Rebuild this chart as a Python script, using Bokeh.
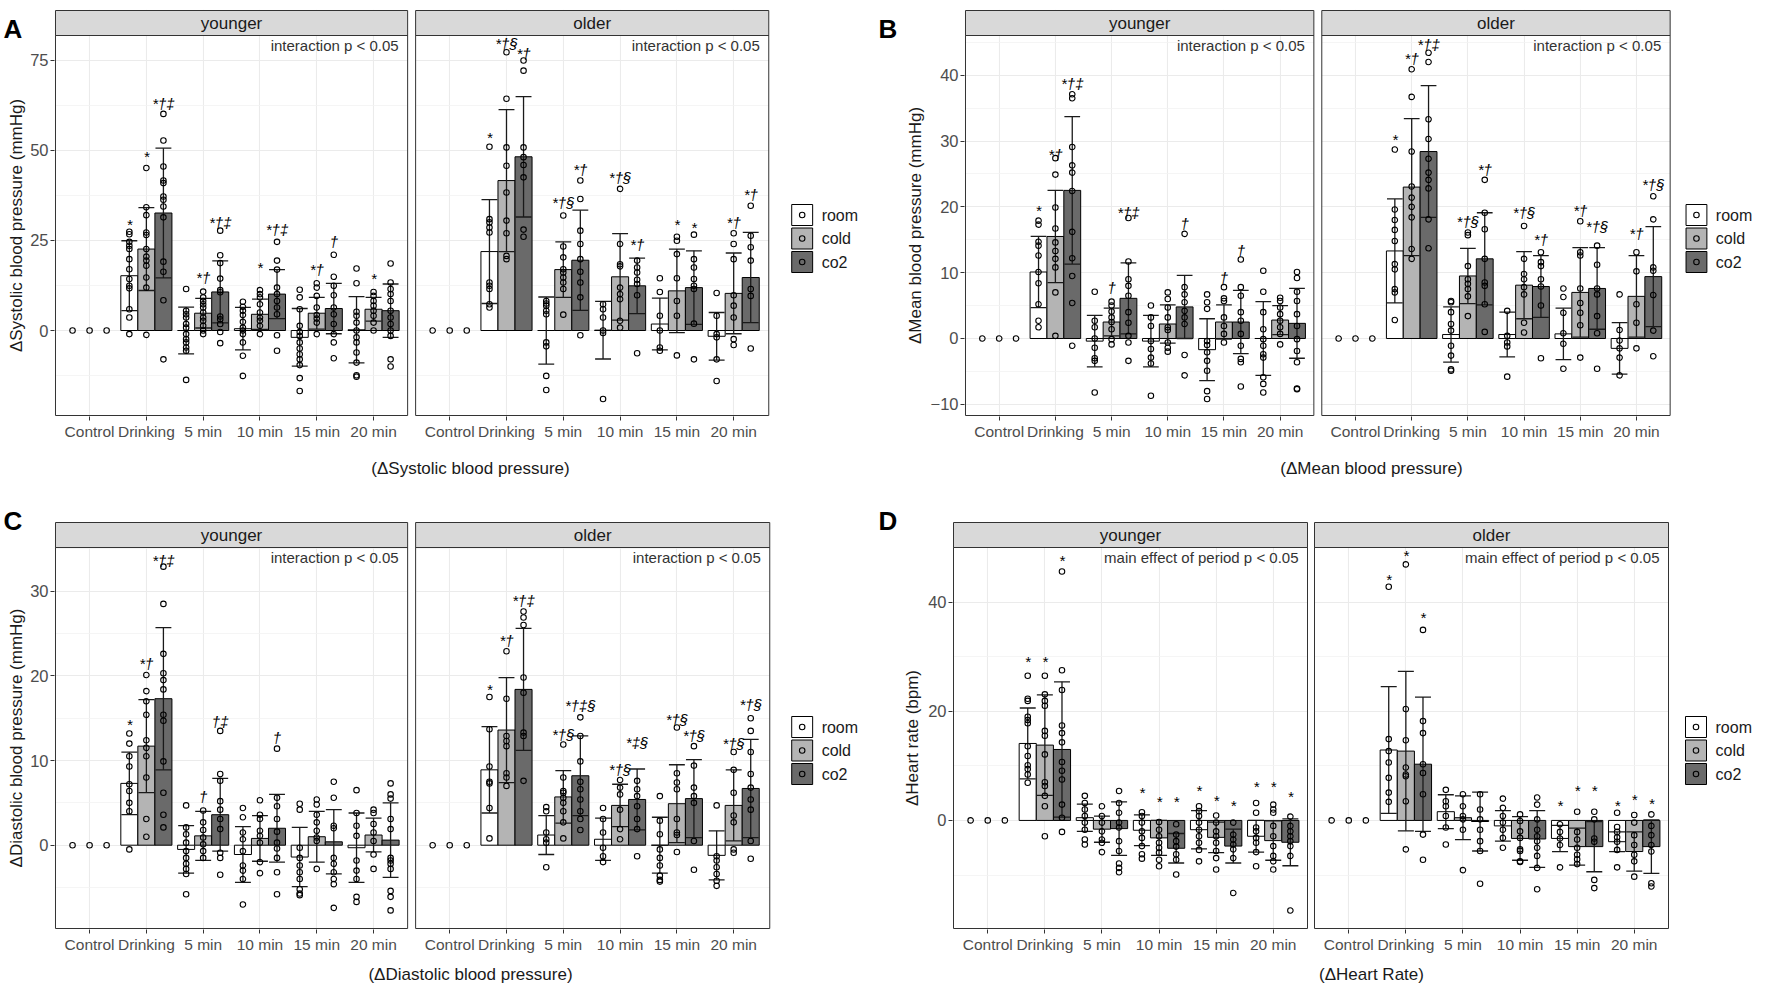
from bokeh.plotting import figure
from bokeh.models import Range1d, FixedTicker, AllLabels
from bokeh.layouts import row, column
from bokeh.embed import file_html
from bokeh.resources import INLINE
from bokeh.core.properties import value

PERIODS = ["Control", "Drinking", "5 min", "10 min", "15 min", "20 min"]
CONDS = ["room", "cold", "co2"]
AGES = ["younger", "older"]
FILL = {"room": "#FFFFFF", "cold": "#B4B4B4", "co2": "#6A6A6A"}
FONT = "Liberation Sans"

# ---------------- Systolic ----------------
SBP_Y_MEAN = {"room": [0, 15.2, 0.0, 0.5, -1.9, 0.2], "cold": [0, 22.6, 4.8, 4.5, 4.8, 5.9], "co2": [0, 32.6, 10.7, 10.1, 6.1, 5.5]}
SBP_Y_SD = {"room": [0, 9.7, 6.5, 5.9, 8.0, 9.2], "cold": [0, 11.5, 4.1, 4.2, 4.4, 3.3], "co2": [0, 18.0, 8.6, 6.8, 7.0, 7.4]}
SBP_Y_PTS = {
    "room": [[0], [27.4, 26.7, 24.6, 23.5, 22.6, 19.8, 17, 14.3, 12.4, 11.7, 5.9, 3.6, -1], [11.5, 5.5, 4.5, 3.6, 1.8, 0.8, -1, -2.4, -3.3, -4.7, -5.6, -13.7],
             [8, 6.6, 5.5, 4.3, 2.4, 0.8, 0, -1, -3.3, -7, -12.6], [11.3, 9.2, 5.9, 1.3, -0.4, -1.5, -3.3, -5, -6.6, -8, -9.6, -13.2, -16.8],
             [17.2, 13.1, 5.2, 4.1, 2.2, 0, -1.9, -3.3, -6.1, -8.9, -12.4, -12.8]],
    "cold": [[0], [45.1, 34.2, 32, 27.2, 26.5, 22.6, 20.5, 19.4, 18, 14.7, 11.9, -1.2], [10.8, 9.2, 8.2, 7.3, 6.4, 5, 3.6, 2.7, 1.3, 0, -1],
             [11.2, 10.1, 9.2, 7.3, 5, 3.6, 2.7, 1.3, -1], [13.1, 11.9, 9.6, 6.4, 4.3, 3.3, 2.2, -1], [10.7, 9.6, 8.2, 6.9, 5.5, 4.1, 2.2, 0]],
    "co2": [[0], [60.1, 52.7, 45.5, 41.6, 40.9, 37.2, 36.3, 34.4, 31.4, 19.1, 16.3, 8.4, -8], [27.7, 20.9, 18.7, 14.4, 11.2, 10.6, 3.9, 3.1, 1.8, -0.4, -3.5],
            [24.6, 19.4, 16.9, 11.9, 10.1, 8.2, 6.4, 4.5, -1.3, -5.6], [21, 14.9, 12.4, 9.8, 6.4, 4.5, 1.8, -1, -3.3, -7.7],
            [18.6, 13.3, 11.5, 10.1, 8.2, 5.5, 3.6, 1.8, 0, -1.5, -8, -10]]}
SBP_Y_SIG = {"room": ["", "*", "", "", "", ""], "cold": ["", "*", "*†", "*", "*†", "*"], "co2": ["", "*†‡", "*†‡", "*†‡", "†", ""]}
SBP_Y_SIGY = {"room": [0, 29.5, 0, 0, 0, 0], "cold": [0, 48.2, 14.7, 17.5, 16.9, 14.3], "co2": [0, 63, 30, 28, 24.6, 0]}

SBP_O_MEAN = {"room": [0, 21.9, 0.0, 0.1, 1.8, -1.6], "cold": [0, 41.6, 16.9, 14.9, 11.0, 10.3], "co2": [0, 48.2, 19.5, 12.4, 11.9, 14.7]}
SBP_O_SD = {"room": [0, 14.4, 9.3, 8.0, 7.2, 6.6], "cold": [0, 19.7, 7.7, 12.0, 11.6, 11.2], "co2": [0, 16.7, 13.9, 7.7, 10.2, 12.5]}
SBP_O_PTS = {
    "room": [[0], [51, 30.9, 30, 28.6, 27.2, 13.3, 12.4, 11.5, 7.3, 6.4], [8.2, 7.5, 6.9, 5.5, 4.5, -3.3, -4.4, -12.6, -16.5],
             [7.3, 5.9, 3.6, 0, -0.7, -19], [14.5, 10.7, 4.1, 0, -4.7, -5.6], [10.4, 4.1, -1, -1.9, -8, -14]],
    "cold": [[0], [77.2, 64.3, 50.8, 45.7, 38.3, 30.5, 27, 20.7, 19.8], [31.9, 23.3, 20.3, 17, 16.1, 14.7, 13.3, 11.5, 4.4],
             [39.3, 24, 18.4, 17.8, 11.9, 10.1, 8.7, 2.7, 0.8], [26, 24.9, 21.2, 14.5, 8.2, 4.1, -6.9], [27, 24, 19.8, 9.8, 6.9, 3.6, -2.4, -4]],
    "co2": [[0], [74.9, 72.1, 50.8, 48.1, 45.9, 42.5, 28, 26], [41.6, 36.5, 27.7, 24, 19.8, 16.3, 13.3, 9.2, -1.3],
            [19.4, 17.5, 16.1, 14.1, 12.9, 9.8, -6.3], [26.6, 19.8, 17.5, 14.3, 12.4, 11.5, 1.9, -8], [34.6, 26.3, 23.1, 19.4, 11.5, 9.6, -5]]}
SBP_O_SIG = {"room": ["", "*", "", "", "", ""], "cold": ["", "*†§", "*†§", "*†§", "*", "*†"], "co2": ["", "*†", "*†", "*†", "*", "*†"]}
SBP_O_SIGY = {"room": [0, 53.6, 0, 0, 0, 0], "cold": [0, 79.5, 35.4, 42.5, 29.5, 30], "co2": [0, 76.8, 44.8, 24, 28.6, 37.6]}

# ---------------- Mean ----------------
MBP_Y_MEAN = {"room": [0, 10.1, -0.4, -0.4, -1.7, 0.0], "cold": [0, 15.5, 2.5, 2.2, 2.5, 2.8], "co2": [0, 22.5, 6.1, 4.8, 2.5, 2.3]}
MBP_Y_SD = {"room": [0, 5.4, 3.9, 3.9, 4.7, 5.6], "cold": [0, 7.0, 2.1, 2.9, 2.6, 2.2], "co2": [0, 11.2, 5.4, 4.8, 4.8, 5.3]}
MBP_Y_PTS = {
    "room": [[0], [17.9, 17.3, 14.7, 14.1, 12.6, 10.1, 8.4, 5.2, 2.7, 1.7], [7.1, 2.7, 1.7, 0, -1.4, -3, -3.4, -8.2],
             [5, 3.2, 1.9, -0.4, -1.6, -2.9, -3.8, -8.7], [6.7, 5.5, 4.5, -0.4, -1, -2.1, -3.4, -4.9, -8, -9.2],
             [10.3, 7.1, 4, 1.4, -0.1, -1.1, -2.4, -2.9, -5.9, -6.9, -8.2]],
    "cold": [[0], [27.4, 24.9, 19.9, 16.7, 14.6, 13.3, 12.1, 10.8, 7, 0.4], [5.6, 5, 4.1, 3.2, 2.5, 1.4, -0.1, -0.9],
             [7, 6, 4.7, 3.2, 1.7, 1.3, -0.6, -1.4, -2], [7.8, 6.1, 5.7, 3.2, 1.9, 0.7, -0.6], [6.2, 5.7, 4.7, 3.7, 2.7, 1.7, 0.7, -0.9]],
    "co2": [[0], [37.1, 36.5, 29.1, 26.3, 25.2, 22.4, 16.2, 12.2, 9.5, 5.4, -1.1], [18.3, 11.7, 9, 8, 6.5, 4, 2.4, 0.4, -0.6, -3.4],
            [15.9, 7.8, 6.7, 5.5, 4.2, 3.2, 2.2, -2.5, -5.6], [12, 7.8, 6.5, 4, 2.7, 0.7, -1.1, -3.1, -3.6, -7.3],
            [10.1, 9.2, 7.1, 5.7, 3.7, 1.9, -0.1, -1.9, -3.6, -7.6, -7.7]]}
MBP_Y_SIG = {"room": ["", "*", "", "", "", ""], "cold": ["", "*†", "†", "", "†", ""], "co2": ["", "*†‡", "*†‡", "†", "†", ""]}
MBP_Y_SIGY = {"room": [0, 19.4, 0, 0, 0, 0], "cold": [0, 28.0, 7.8, 0, 9.3, 0], "co2": [0, 38.7, 19.2, 17.4, 13.3, 0]}

MBP_O_MEAN = {"room": [0, 13.3, 0.6, 0.6, 0.7, -1.5], "cold": [0, 23.0, 9.5, 8.1, 7.0, 6.4], "co2": [0, 28.4, 12.1, 7.9, 7.6, 9.4]}
MBP_O_SD = {"room": [0, 7.9, 4.2, 3.4, 3.9, 3.9], "cold": [0, 10.4, 4.2, 5.1, 6.8, 6.2], "co2": [0, 10.0, 7.0, 4.7, 6.2, 7.6]}
MBP_O_PTS = {
    "room": [[0], [28.7, 19.6, 18, 16.5, 14.8, 11.3, 10.5, 7.5, 7, 2.8], [5.7, 5.5, 4, 2.2, 1.2, -1.1, -2.6, -4.7, -4.9],
             [4.2, 0.4, -0.6, -1.2, -5.8], [7.6, 6.3, 3.9, 0.8, -0.8, -4.6], [6.7, 1.3, -0.3, -1.5, -2.9, -5.6]],
    "cold": [[0], [40.9, 36.7, 28.4, 23.1, 21.4, 20, 18.4, 13.6, 12.1], [16.1, 15.7, 11, 9, 8.3, 7.5, 6.4, 3.4],
             [17.1, 12.1, 9.8, 9, 7.8, 6.7, 2.4, 0.9], [17.8, 13.1, 12.6, 7.6, 5.4, 3.9, 2, -2.9], [13.1, 10.2, 5.2, 2.4, -1.5]],
    "co2": [[0], [43.4, 42, 33.3, 30.3, 27.3, 25.2, 24.1, 22.8, 18.1, 13.7], [24.1, 19.1, 16.6, 12.1, 8.5, 8, 5.2, 1],
            [13.1, 11.6, 11, 9, 7.9, 5, -3], [14.1, 11.2, 7.6, 6.7, 3.4, 0.8, -4.6], [21.6, 18.1, 10.8, 10.3, 6.6, 1.2, -2.7]]}
MBP_O_SIG = {"room": ["", "*", "", "", "", ""], "cold": ["", "*†", "*†§", "*†§", "*†", "*†"], "co2": ["", "*†‡", "*†", "*†", "*†§", "*†§"]}
MBP_O_SIGY = {"room": [0, 30.3, 0, 0, 0, 0], "cold": [0, 42.5, 17.7, 19.1, 19.5, 16.0], "co2": [0, 44.6, 25.7, 15.1, 17.0, 23.4]}

# ---------------- Diastolic ----------------
DBP_Y_MEAN = {"room": [0, 7.3, -0.5, -1.1, -1.4, -0.3], "cold": [0, 11.7, 1.1, 0.8, 1.0, 1.2], "co2": [0, 17.3, 3.6, 2.0, 0.4, 0.6]}
DBP_Y_SD = {"room": [0, 3.7, 2.8, 3.3, 3.5, 4.1], "cold": [0, 5.5, 2.9, 2.7, 3.0, 2.0], "co2": [0, 8.4, 4.3, 4.0, 3.8, 4.4]}
DBP_Y_PTS = {
    "room": [[0], [13.2, 12, 10.5, 9.3, 7.2, 6.4, 5, 4, -0.5], [4.7, 2.1, 1.3, 0.3, -0.7, -1.5, -2.2, -2.8, -3.4, -5.8],
             [4.4, 3.3, 1.5, 0.7, -0.7, -2.4, -3, -4, -7], [4.9, 4.2, -0.3, -1.5, -2.4, -3.2, -4, -5.2, -5.7, -5.9],
             [6.5, 3.8, 2.3, 1.1, -1.8, -3, -4, -6.1, -6.7]],
    "cold": [[0], [20.1, 18.2, 17, 15.4, 12.4, 11.5, 10.5, 8, 3.1, 1], [4.1, 2.7, 1.8, 0.9, 0.1, -0.7, -1.5],
             [5.3, 3.6, 3.1, 1.7, 1.1, 0.3, -2, -3.3], [5.4, 4.8, 3.6, 2.7, 1.7, 0.9, 0.5, -2.8], [4.2, 3.8, 2.5, 1.5, 0.5, -1.1, -2.8]],
    "co2": [[0], [32.9, 28.5, 22.6, 20.3, 19.5, 18.4, 15.4, 14.7, 9.9, 6.2, 3.6, 2.1], [13.5, 8.4, 7.6, 5.2, 4.2, 3.1, 1.9, -0.9, -1.5, -3.5],
            [11.4, 5.6, 4.6, 3.1, 1.6, 0.3, -0.4, -1.5, -3.2, -5.8], [7.5, 5.6, 2.3, 2, -1.5, -2.2, -3.2, -4, -4.6, -7.4],
            [7.3, 6, 5.5, 3.1, 1.9, -1.5, -1.8, -2.2, -2.8, -5.4, -6.1, -7.7]]}
DBP_Y_SIG = {"room": ["", "*", "", "", "", ""], "cold": ["", "*†", "†", "", "", ""], "co2": ["", "*†‡", "†‡", "†", "", ""]}
DBP_Y_SIGY = {"room": [0, 14.2, 0, 0, 0, 0], "cold": [0, 21.5, 5.8, 0, 0, 0], "co2": [0, 33.6, 14.6, 12.7, 0, 0]}

DBP_O_MEAN = {"room": [0, 8.9, 1.2, 0.7, 0.0, -1.2], "cold": [0, 13.6, 5.7, 4.7, 4.9, 4.7], "co2": [0, 18.4, 8.2, 5.4, 5.5, 6.7]}
DBP_O_SD = {"room": [0, 5.1, 2.3, 2.5, 3.3, 2.9], "cold": [0, 6.2, 3.1, 2.5, 4.6, 4.2], "co2": [0, 7.2, 4.7, 3.6, 4.6, 5.8]}
DBP_O_PTS = {
    "room": [[0], [17.5, 13.7, 9.3, 7.5, 7.3, 4.4, 0.8], [4.5, 4, 1.5, 0.7, 0.3, -2.6], [4.4, 3.1, 1.5, -0.3, -1.3, -2],
             [5.8, 2.9, 1.3, -0.5, -1.5, -2.4, -3.6, -4.1, -4.3], [4.7, -1.3, -1.8, -2.6, -3.4, -4.2, -4.8]],
    "cold": [[0], [22.9, 17.3, 12.9, 12.3, 11.7, 8.5, 8, 7], [11.9, 8, 6.4, 6.2, 5.6, 5, 4, 2.7, 0.8], [7.7, 6.8, 6, 4.2, 1.9, 0.7],
             [13.9, 8.5, 7.4, 6.6, 3.1, 1.5, 1.2, -0.8], [11, 8.9, 6.2, 3.5, 2.7, -0.5, -0.9]],
    "co2": [[0], [27.6, 26.9, 26, 19.8, 18, 13.3, 12.9, 7.6], [15.1, 12.9, 9.9, 7.5, 6.6, 5.4, 4, 3.1, 1.8], [7.6, 6.6, 5.8, 4.6, 3.1, 1.9, -1.3],
            [11.7, 9.4, 6.8, 5.8, 5, 0.5, -2.9], [15, 13.5, 11, 8.4, 6.8, 5.4, 4.2, 0.5, -1.6]]}
DBP_O_SIG = {"room": ["", "*", "", "", "", ""], "cold": ["", "*†", "*†§", "*†§", "*†§", "*†§"], "co2": ["", "*†‡", "*†‡§", "*‡§", "*†§", "*†§"]}
DBP_O_SIGY = {"room": [0, 18.4, 0, 0, 0, 0], "cold": [0, 24.2, 13.1, 8.9, 14.9, 12.0], "co2": [0, 28.9, 16.5, 12.1, 13.0, 16.6]}

# ---------------- Heart rate ----------------
HR_Y_MEAN = {"room": [0, 14.1, 0.5, -1.8, -1.7, -2.9], "cold": [0, 13.8, -1.6, -3.2, -3.1, -3.7], "co2": [0, 13.0, -1.5, -5.1, -4.7, -4.0]}
HR_Y_SD = {"room": [0, 6.5, 2.5, 2.8, 3.5, 2.9], "cold": [0, 9.2, 2.4, 3.2, 2.8, 3.6], "co2": [0, 12.4, 4.9, 2.7, 3.1, 4.3]}
HR_Y_PTS = {
    "room": [[0], [26.5, 22.3, 21.9, 19, 18.4, 17.8, 13.6, 11.8, 10.1, 9.4, 8.4, 6.9], [4.5, 3.2, 2, 0.8, -0.4, -1.7, -3.5, -4.4],
             [1.5, 0.8, -0.4, -2, -3.2, -4.7, -6.2, -7], [2.6, 1.7, 0.8, -0.4, -1.7, -2.9, -4.1, -5.4, -7.5], [3.2, 1.4, -1.3, -2, -3.2, -4.1, -5.8, -8.4]],
    "cold": [[0], [26.5, 23.1, 21.9, 21, 16.4, 15.5, 12.1, 7, 6.3, 4.5, 2.6, -2.9], [2.6, 0.8, -0.4, -2, -3.5, -4.1, -5.8],
             [-0.3, -1.7, -2.9, -4.1, -5, -5.9, -7.2, -8.4], [0.9, -0.4, -2, -2.9, -4.1, -5.6, -6.9, -9], [2.9, 2, 1.4, -1, -2.9, -4.7, -6.5, -7.5, -9]],
    "co2": [[0], [45.6, 27.5, 23.9, 17.4, 16, 14.3, 10.7, 9.1, 7.5, 2.9, 0.5, -2.1], [5.4, 3.2, 1.4, -0.4, -1.3, -3.8, -5.6, -7.9, -8.7, -9.5],
            [-0.7, -2.6, -3.8, -4.8, -6.2, -7.2, -9.9], [-0.4, -2.6, -3.5, -4.4, -5.3, -6.9, -13.3], [0.7, -1, -2, -2.9, -3.8, -4.7, -6.5, -16.5]]}
HR_Y_SIG = {"room": ["", "*", "", "*", "*", "*"], "cold": ["", "*", "", "*", "*", "*"], "co2": ["", "*", "", "*", "*", "*"]}
HR_Y_SIGY = {"room": [0, 29.2, 0, 5.1, 5.4, 6.3], "cold": [0, 29.2, 0, 3.4, 3.7, 6.3], "co2": [0, 47.6, 0, 3.4, 2.8, 4.3]}

HR_O_MEAN = {"room": [0, 12.9, 1.6, -1.0, -3.3, -3.9], "cold": [0, 12.7, 0.5, -3.3, -4.8, -5.7], "co2": [0, 10.3, -0.2, -3.4, -4.8, -4.8]}
HR_O_SD = {"room": [0, 11.6, 3.1, 2.8, 2.4, 1.8], "cold": [0, 14.6, 4.0, 4.0, 3.4, 3.6], "co2": [0, 12.3, 5.4, 5.2, 4.6, 4.9]}
HR_O_PTS = {
    "room": [[0], [42.8, 14.9, 12.7, 10.6, 7.8, 5.1, 3.4], [5.6, 3.5, 2.6, 0.8, -1.3, -4.4], [4, 2.3, 0.8, -0.4, -1.7, -3.2, -5],
             [-0.7, -2.1, -3.3, -4.5, -8.6], [1.4, -1.2, -2.1, -3.1, -3.9, -5.4, -8.6]],
    "cold": [[0], [46.9, 20.4, 14.7, 9.7, 8.4, 8.1, 3.5, -5.3], [4.8, 2.6, 0.8, 0.2, -1.7, -9.1], [1.1, -0.1, -2, -3.2, -5.3, -5.6, -7.5, -7.6],
             [1.6, -2.1, -3.5, -5, -6.3, -7.1, -8], [1, -0.4, -2.7, -4.5, -6.3, -7.5, -10.3]],
    "co2": [[0], [34.9, 18.2, 16, 10.3, 8.7, 4.8, -2.6, -7.2], [4.8, 2, 0.2, -1.7, -3.8, -5.6, -11.6],
            [4.2, 2.9, 0.2, -1.7, -2.9, -3.8, -5, -6.5, -8.7, -12.6], [1.6, 0.2, -3.3, -3.9, -10.9, -12.4], [1.1, -1, -2.7, -4.5, -5.7, -11.5, -12.1]]}
HR_O_SIG = {"room": ["", "*", "", "", "*", "*"], "cold": ["", "*", "", "", "*", "*"], "co2": ["", "*", "", "", "*", "*"]}
HR_O_SIGY = {"room": [0, 44.2, 0, 0, 2.8, 2.8], "cold": [0, 48.5, 0, 0, 5.5, 3.9], "co2": [0, 37.1, 0, 0, 5.5, 3.1]}

PANELS = [
    dict(letter="A", fig=(8, 8, 875, 487), facets=(61, 414, 422, 776), rows=(18, 43, 423), ylim=(-23.58, 81.85),
         yticks=[0, 25, 50, 75], yminor=[-12.5, 12.5, 37.5, 62.5], ylabel="ΔSystolic blood pressure (mmHg)", ylabel_x=24,
         title="(ΔSystolic blood pressure)", title_pos=(478, 476), letter_pos=(11, 36), letter_h=44, axis_w=25,
         note="interaction p < 0.05", legend_key=(799, 212),
         data=[(SBP_Y_MEAN, SBP_Y_SD, SBP_Y_PTS, SBP_Y_SIG, SBP_Y_SIGY), (SBP_O_MEAN, SBP_O_SD, SBP_O_PTS, SBP_O_SIG, SBP_O_SIGY)]),
    dict(letter="B", fig=(883, 8, 881, 487), facets=(967, 1318, 1326, 1677), rows=(18, 43, 423), ylim=(-11.70, 46.03),
         yticks=[-10, 0, 10, 20, 30, 40], yminor=[-5, 5, 15, 25, 35, 45], ylabel="ΔMean blood pressure (mmHg)", ylabel_x=923,
         title="(ΔMean blood pressure)", title_pos=(1379, 476), letter_pos=(886, 36), letter_h=44, axis_w=31,
         note="interaction p < 0.05", legend_key=(1693, 212),
         data=[(MBP_Y_MEAN, MBP_Y_SD, MBP_Y_PTS, MBP_Y_SIG, MBP_Y_SIGY), (MBP_O_MEAN, MBP_O_SD, MBP_O_PTS, MBP_O_SIG, MBP_O_SIGY)]),
    dict(letter="C", fig=(8, 495, 875, 500), facets=(61, 414, 422, 777), rows=(530, 555, 936), ylim=(-9.84, 35.16),
         yticks=[0, 10, 20, 30], yminor=[-5, 5, 15, 25, 35], ylabel="ΔDiastolic blood pressure (mmHg)", ylabel_x=24,
         title="(ΔDiastolic blood pressure)", title_pos=(478, 982), letter_pos=(11, 528), letter_h=52, axis_w=25,
         note="interaction p < 0.05", legend_key=(799, 724),
         data=[(DBP_Y_MEAN, DBP_Y_SD, DBP_Y_PTS, DBP_Y_SIG, DBP_Y_SIGY), (DBP_O_MEAN, DBP_O_SD, DBP_O_PTS, DBP_O_SIG, DBP_O_SIGY)]),
    dict(letter="D", fig=(883, 495, 881, 500), facets=(961, 1315, 1322, 1676), rows=(530, 555, 936), ylim=(-19.8, 50.0),
         yticks=[0, 20, 40], yminor=[-10, 10, 30], ylabel="ΔHeart rate (bpm)", ylabel_x=920,
         title="(ΔHeart Rate)", title_pos=(1379, 982), letter_pos=(886, 528), letter_h=52, axis_w=27,
         note="main effect of period p < 0.05", legend_key=(1693, 724),
         data=[(HR_Y_MEAN, HR_Y_SD, HR_Y_PTS, HR_Y_SIG, HR_Y_SIGY), (HR_O_MEAN, HR_O_SD, HR_O_PTS, HR_O_SIG, HR_O_SIGY)]),
]


def text_fig(w, h, items):
    """A plain figure whose frame is the whole canvas; items are (x_from_left, y_from_top, text, options)."""
    p = figure(width=w, height=h, x_range=Range1d(0, w), y_range=Range1d(0, h), output_backend="svg",
               toolbar_location=None, x_axis_location=None, y_axis_location=None, min_border=0, title=None)
    p.outline_line_color = None
    p.background_fill_color = "white"
    p.border_fill_color = "white"
    p.grid.visible = False
    for r in list(p.center):
        r.visible = False
    for (x, y, t, opt) in items:
        p.text(x=[x], y=[h - y], text=[t], text_font=value(FONT), **opt)
    return p


def make_panel(cfg):
    fl, ft, fw, fh = cfg["fig"]
    yl, yr, ol, orr = cfg["facets"]
    st, pt, pb = cfg["rows"]
    ylo, yhi = cfg["ylim"]
    frL, frT, frB = yl - 1, st - 1, pb + 1
    fig_right = fl + fw
    main_left = frL - cfg["axis_w"]
    main_bottom = frB + 28
    u = 6.2 / (yr - yl)

    def X(px):
        return 0.4 + (px - yl) * u
    k = (yhi - ylo) / (pb - pt)

    def Y(py):
        return ylo + (pb - py) * k
    off = (ol - yl) * u

    p = figure(width=fig_right - main_left, height=main_bottom - ft,
               x_range=Range1d(X(frL), X(fig_right)), y_range=Range1d(Y(frB), Y(frT)),
               output_backend="svg", toolbar_location=None, title=None,
               min_border_left=frL - main_left, min_border_right=0,
               min_border_top=frT - ft, min_border_bottom=main_bottom - frB)
    p.outline_line_color = None
    p.background_fill_color = "white"
    p.border_fill_color = "white"

    xt = [float(i) for i in range(1, 7)] + [round(i + off, 6) for i in range(1, 7)]
    p.xaxis.ticker = FixedTicker(ticks=xt)
    p.xgrid.ticker = FixedTicker(ticks=xt)
    p.xaxis.major_label_overrides = {t: PERIODS[n % 6] for n, t in enumerate(xt)}
    p.yaxis.ticker = FixedTicker(ticks=cfg["yticks"])
    p.ygrid.ticker = FixedTicker(ticks=cfg["yticks"], minor_ticks=cfg["yminor"])
    for ax in (p.xaxis[0], p.yaxis[0]):
        ax.axis_line_color = None
        ax.major_tick_line_color = "#333333"
        ax.major_tick_in = 0
        ax.major_tick_out = 4
        ax.minor_tick_line_color = None
        ax.major_label_text_font = FONT
        ax.major_label_text_color = "#4D4D4D"
        ax.major_label_text_font_size = "15.5px"
        ax.major_label_standoff = 2
        ax.major_label_policy = AllLabels()
    p.yaxis[0].major_label_text_font_size = "16.5px"
    p.xgrid.grid_line_color = "#EBEBEB"
    p.xgrid.grid_line_width = 1.1
    p.ygrid.grid_line_color = "#EBEBEB"
    p.ygrid.grid_line_width = 1.1
    p.ygrid.minor_grid_line_color = "#F3F3F3"
    p.ygrid.minor_grid_line_width = 0.8

    # white covers: facet gap, 1px pads, and the legend zone on the right
    Yb, Yt = Y(frB) - 5, Y(frT) + 5
    p.quad(left=[X(yr), X(frL) - 1, X(orr), X(frL) - 1, X(frL) - 1],
           right=[X(ol), X(yl), X(fig_right) + 1, X(fig_right) + 1, X(fig_right) + 1],
           bottom=[Yb, Yb, Yb, Y(st), Yb], top=[Yt, Yt, Yt, Yt, ylo],
           fill_color="white", line_color=None)

    bars, errs, pts, sigs = {}, {}, {}, {}
    for j, c in enumerate(CONDS):
        bx, bt, ex, elo, ehi, px_, py_, tx, ty, tt = [], [], [], [], [], [], [], [], [], []
        for f, (MEAN, SD, PTS, SIG, SIGY) in enumerate(cfg["data"]):
            for i in range(6):
                x = i + 1 + f * off + (j - 1) * 0.3
                for v in PTS[c][i]:
                    px_.append(x)
                    py_.append(v)
                if i == 0:
                    continue
                bx.append(x)
                bt.append(MEAN[c][i])
                ex.append(x)
                elo.append(MEAN[c][i] - SD[c][i])
                ehi.append(MEAN[c][i] + SD[c][i])
                if SIG[c][i]:
                    tx.append(x)
                    ty.append(SIGY[c][i])
                    tt.append(SIG[c][i])
        bars[c] = (bx, bt)
        errs[c] = (ex, elo, ehi)
        pts[c] = (px_, py_)
        sigs[c] = (tx, ty, tt)

    for c in CONDS:
        bx, bt = bars[c]
        p.vbar(x=bx, top=bt, bottom=0, width=0.3, fill_color=FILL[c], line_color="black", line_width=1)
    hw = 0.14
    for c in CONDS:
        ex, elo, ehi = errs[c]
        p.segment(x0=ex, y0=elo, x1=ex, y1=ehi, line_color="#1A1A1A", line_width=1.3)
        p.segment(x0=[x - hw for x in ex], y0=ehi, x1=[x + hw for x in ex], y1=ehi, line_color="#1A1A1A", line_width=1.3)
        p.segment(x0=[x - hw for x in ex], y0=elo, x1=[x + hw for x in ex], y1=elo, line_color="#1A1A1A", line_width=1.3)
    for c in CONDS:
        px_, py_ = pts[c]
        p.scatter(x=px_, y=py_, marker="circle", size=5.5, fill_color=None, line_color="black", line_width=1.1)
    for c in CONDS:
        tx, ty, tt = sigs[c]
        p.text(x=tx, y=ty, text=tt, text_font=value(FONT), text_font_size="15px", text_font_style="italic",
               text_align="center", text_baseline="middle", text_color="black")

    # strips and panel borders
    p.quad(left=[X(yl), X(ol)], right=[X(yr), X(orr)], bottom=[yhi, yhi], top=[Y(st), Y(st)],
           fill_color="#D9D9D9", line_color="#333333", line_width=1)
    p.quad(left=[X(yl), X(ol)], right=[X(yr), X(orr)], bottom=[ylo, ylo], top=[yhi, yhi],
           fill_color=None, line_color="#333333", line_width=1)
    p.text(x=[X((yl + yr) / 2), X((ol + orr) / 2)], y=[Y((st + pt) / 2)] * 2, text=AGES,
           text_font=value(FONT), text_font_size="17px", text_align="center", text_baseline="middle", text_color="#1A1A1A")
    p.text(x=[X(yr - 9), X(orr - 9)], y=[Y(pt + 10)] * 2, text=[cfg["note"]] * 2,
           text_font=value(FONT), text_font_size="15px", text_align="right", text_baseline="middle", text_color="#333333")

    # legend (inside the frame's right-hand zone)
    kx, ky = cfg["legend_key"]
    kw, pitch = 21, 23.5
    tops = [ky + j * pitch for j in range(3)]
    p.quad(left=[X(kx)] * 3, right=[X(kx + kw)] * 3, top=[Y(t) for t in tops], bottom=[Y(t + kw) for t in tops],
           fill_color=[FILL[c] for c in CONDS], line_color="black", line_width=1)
    p.scatter(x=[X(kx + kw / 2)] * 3, y=[Y(t + kw / 2) for t in tops], marker="circle", size=5.5,
              fill_color=None, line_color="black", line_width=1.1)
    p.text(x=[X(kx + kw + 9)] * 3, y=[Y(t + kw / 2) for t in tops], text=CONDS, text_font=value(FONT),
           text_font_size="16px", text_align="left", text_baseline="middle", text_color="#1A1A1A")

    # side figures: letter, y-axis title, x title
    colw = main_left - fl
    lh = cfg["letter_h"]
    lx, ly = cfg["letter_pos"]
    letter = text_fig(colw, lh, [(lx - fl, ly - ft, cfg["letter"],
                                  dict(text_font_size="26px", text_font_style="bold", text_align="left",
                                       text_baseline="alphabetic", text_color="black"))])
    ylab_h = (main_bottom - ft) - lh
    ylab = text_fig(colw, ylab_h, [(cfg["ylabel_x"] - fl, (pt + pb) / 2 - (ft + lh), cfg["ylabel"],
                                    dict(text_font_size="17px", text_align="center", text_baseline="middle",
                                         text_color="#1A1A1A", angle=1.5707963))])
    tx_, ty_ = cfg["title_pos"]
    tfig = text_fig(fw, ft + fh - main_bottom, [(tx_ - fl, ty_ - main_bottom, cfg["title"],
                                                  dict(text_font_size="17px", text_align="center",
                                                       text_baseline="middle", text_color="#1A1A1A"))])
    return column(row(column(letter, ylab), p), tfig)


blocks = [make_panel(cfg) for cfg in PANELS]
layout = column(row(blocks[0], blocks[1]), row(blocks[2], blocks[3]))
open("out.html", "w").write(file_html(layout, INLINE))
